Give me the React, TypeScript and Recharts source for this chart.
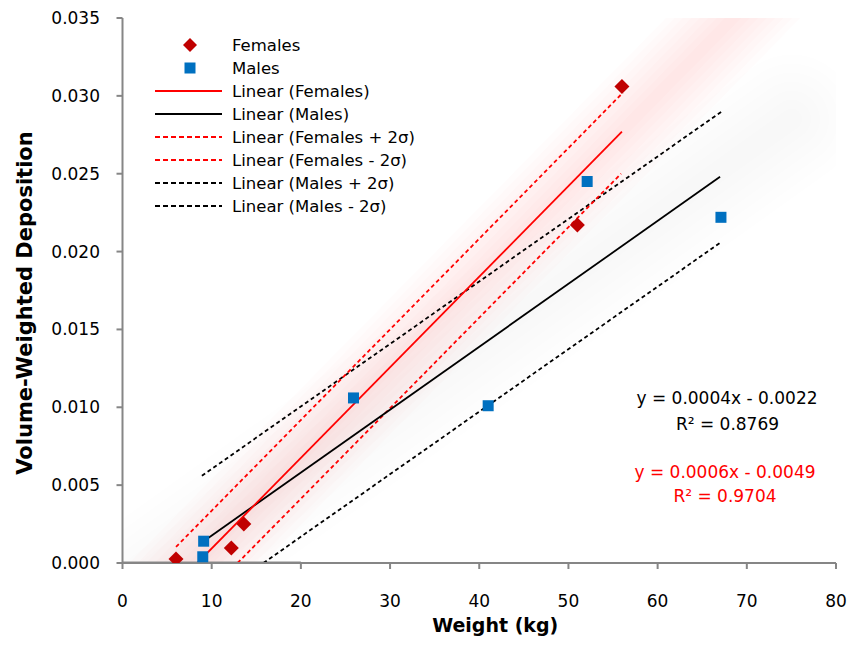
import React from 'react';
import { ComposedChart, XAxis, YAxis, Line, Scatter, Legend } from 'recharts';

const FONT = '"DejaVu Sans", sans-serif';

const xTicks = [0, 10, 20, 30, 40, 50, 60, 70, 80];
const yTicks = [0, 0.005, 0.01, 0.015, 0.02, 0.025, 0.03, 0.035];

const femaleWeights = [6.0, 12.2, 13.6, 51.0, 56.0];
const femaleDeposition = [0.00026, 0.00096, 0.0025, 0.0217, 0.0306];
const maleWeights = [9.1, 9.0, 25.9, 41.0, 52.1, 67.1];
const maleDeposition = [0.0014, 0.0004, 0.0106, 0.0101, 0.0245, 0.0222];

const femaleFitX = [8.4, 56.0];
const femaleFitY = [0, 0.0277];
const maleFitX = [9.1, 67.0];
const maleFitY = [0.0014, 0.0248];
const femalePlusX = [6.0, 56.1];
const femalePlusY = [0.00103, 0.0302];
const femaleMinusX = [12.9, 55.9];
const femaleMinusY = [0, 0.025];
const malePlusX = [8.9, 67.2];
const malePlusY = [0.0056, 0.029];
const maleMinusX = [15.8, 67.1];
const maleMinusY = [0, 0.0206];
const baselineX = [0, 20];
const baselineY = [0, 0];
const femaleGlowX = [5.0, 80.0];
const femaleGlowY = [-0.0019, 0.0417];
const maleGlowX = [-3.0, 75.0];
const maleGlowY = [-0.0035, 0.0285];

const femaleGlowWidths = [96, 84, 72, 60, 48, 36, 24, 12];
const maleGlowWidths = [130, 112, 94, 76, 58, 40, 22];

const legendLabels = [
  'Females',
  'Males',
  'Linear (Females)',
  'Linear (Males)',
  'Linear (Females + 2σ)',
  'Linear (Females - 2σ)',
  'Linear (Males + 2σ)',
  'Linear (Males - 2σ)',
];

const maleEquation = ['y = 0.0004x - 0.0022', 'R² = 0.8769'];
const femaleEquation = ['y = 0.0006x - 0.0049', 'R² = 0.9704'];

const zip = (xs: number[], ys: number[]) => xs.map((x, i) => ({ x, y: ys[i] }));

const RED = '#FF0000';
const DARKRED = '#C00000';
const BLUE = '#0070C0';

const Diamond = (p: any) => {
  const { cx, cy } = p;
  if (cx == null || cy == null) return <g />;
  return <path d={`M${cx},${cy - 7.5} L${cx + 7.5},${cy} L${cx},${cy + 7.5} L${cx - 7.5},${cy} Z`} fill={DARKRED} />;
};

const Square = (p: any) => {
  const { cx, cy } = p;
  if (cx == null || cy == null) return <g />;
  return <rect x={cx - 5.5} y={cy - 5.5} width={11} height={11} fill={BLUE} />;
};

const legendSymbols = [
  { type: 'diamond' },
  { type: 'square' },
  { type: 'line', color: RED, dash: undefined },
  { type: 'line', color: '#000', dash: undefined },
  { type: 'line', color: RED, dash: '5 3' },
  { type: 'line', color: RED, dash: '5 3' },
  { type: 'line', color: '#000', dash: '5 3' },
  { type: 'line', color: '#000', dash: '5 3' },
];

const LegendContent = () => (
  <div style={{ fontFamily: FONT, fontSize: 16.5, color: '#000' }}>
    {legendLabels.map((lab, i) => {
      const s = legendSymbols[i];
      return (
        <div key={lab} style={{ display: 'flex', alignItems: 'center', height: 23 }}>
          <svg width={67} height={14} style={{ marginRight: 10, flex: 'none' }}>
            {s.type === 'diamond' && <path d="M35,0 L42,7 L35,14 L28,7 Z" fill={DARKRED} />}
            {s.type === 'square' && <rect x={29.5} y={1.5} width={11} height={11} fill={BLUE} />}
            {s.type === 'line' && (
              <line x1={0} y1={7} x2={67} y2={7} stroke={s.color} strokeWidth={2} strokeDasharray={s.dash} />
            )}
          </svg>
          <span style={{ whiteSpace: 'nowrap', lineHeight: '23px' }}>{lab}</span>
        </div>
      );
    })}
  </div>
);

const axisStyle = { stroke: '#868686', strokeWidth: 2 };

export default function App() {
  const lineCommon = {
    dataKey: 'y',
    type: 'linear' as const,
    dot: false,
    activeDot: false,
    isAnimationActive: false,
    legendType: 'none' as const,
  };
  const maleGlow = zip(maleGlowX, maleGlowY);
  const femaleGlow = zip(femaleGlowX, femaleGlowY);
  return (
    <div style={{ position: 'relative', width: 855, height: 637 }}>
      <ComposedChart
        width={855}
        height={637}
        margin={{ top: 10, right: 27, left: 14.5, bottom: 2 }}
      >
        <XAxis
          dataKey="x"
          type="number"
          domain={[0, 80]}
          ticks={xTicks}
          allowDataOverflow
          height={80}
          axisLine={axisStyle}
          tickLine={axisStyle}
          tickSize={6}
          tickMargin={26}
          tick={{ fill: '#000', fontSize: 17, fontFamily: FONT }}
          label={(props: any) => {
            const vb = props.viewBox || { x: 114.5, y: 555, width: 713.5, height: 80 };
            return (
              <text
                x={vb.x + vb.width / 2 + 16}
                y={vb.y + 69}
                textAnchor="middle"
                fontFamily={FONT}
                fontWeight="bold"
                fontSize={19}
                fill="#000"
              >
                Weight (kg)
              </text>
            );
          }}
        />
        <YAxis
          dataKey="y"
          type="number"
          domain={[0, 0.035]}
          ticks={yTicks}
          allowDataOverflow
          width={100}
          axisLine={axisStyle}
          tickLine={axisStyle}
          tickSize={6}
          tickMargin={16.5}
          tickFormatter={(v: number) => v.toFixed(3)}
          tick={{ fill: '#000', fontSize: 17, fontFamily: FONT }}
          label={() => {
            const cx = 17;
            const cy = 295;
            return (
              <text
                x={cx}
                y={cy}
                transform={`rotate(-90, ${cx}, ${cy})`}
                textAnchor="middle"
                dominantBaseline="central"
                fontFamily={FONT}
                fontWeight="bold"
                fontSize={21}
                fill="#000"
              >
                Volume-Weighted Deposition
              </text>
            );
          }}
        />
        {maleGlowWidths.map((w) => (
          <Line key={`mg${w}`} {...lineCommon} data={maleGlow} stroke="#000" strokeOpacity={0.0055} strokeWidth={w} strokeLinecap="round" />
        ))}
        {femaleGlowWidths.map((w) => (
          <Line key={`fg${w}`} {...lineCommon} data={femaleGlow} stroke="#FF1010" strokeOpacity={0.013} strokeWidth={w} strokeLinecap="round" />
        ))}
        <Line {...lineCommon} data={zip(baselineX, baselineY)} stroke="#8C8C8C" strokeWidth={3} />
        <Line {...lineCommon} data={zip(malePlusX, malePlusY)} stroke="#000" strokeWidth={1.8} strokeDasharray="4 3" />
        <Line {...lineCommon} data={zip(maleMinusX, maleMinusY)} stroke="#000" strokeWidth={1.8} strokeDasharray="4 3" />
        <Line {...lineCommon} data={zip(femalePlusX, femalePlusY)} stroke={RED} strokeWidth={1.8} strokeDasharray="4 3" />
        <Line {...lineCommon} data={zip(femaleMinusX, femaleMinusY)} stroke={RED} strokeWidth={1.8} strokeDasharray="4 3" />
        <Line {...lineCommon} data={zip(maleFitX, maleFitY)} stroke="#000" strokeWidth={1.8} />
        <Line {...lineCommon} data={zip(femaleFitX, femaleFitY)} stroke={RED} strokeWidth={1.8} />
        <Scatter data={zip(maleWeights, maleDeposition)} dataKey="y" shape={Square} isAnimationActive={false} />
        <Scatter data={zip(femaleWeights, femaleDeposition)} dataKey="y" shape={Diamond} isAnimationActive={false} />
        <Legend
          layout="vertical"
          align="center"
          verticalAlign="middle"
          content={LegendContent}
          wrapperStyle={{ position: 'absolute', left: 147, top: 25.5, width: 300, height: 190 }}
        />
      </ComposedChart>
      <svg width={855} height={637} style={{ position: 'absolute', left: 0, top: 0, pointerEvents: 'none' }}>
        <g fontFamily={FONT} fontSize={17} textAnchor="middle">
          <text x={719} y={396} fill="#000">{maleEquation[0]}</text>
          <text x={719.5} y={422} fill="#000">{maleEquation[1]}</text>
          <text x={717} y={470} fill={RED}>{femaleEquation[0]}</text>
          <text x={717} y={494} fill={RED}>{femaleEquation[1]}</text>
        </g>
      </svg>
    </div>
  );
}
